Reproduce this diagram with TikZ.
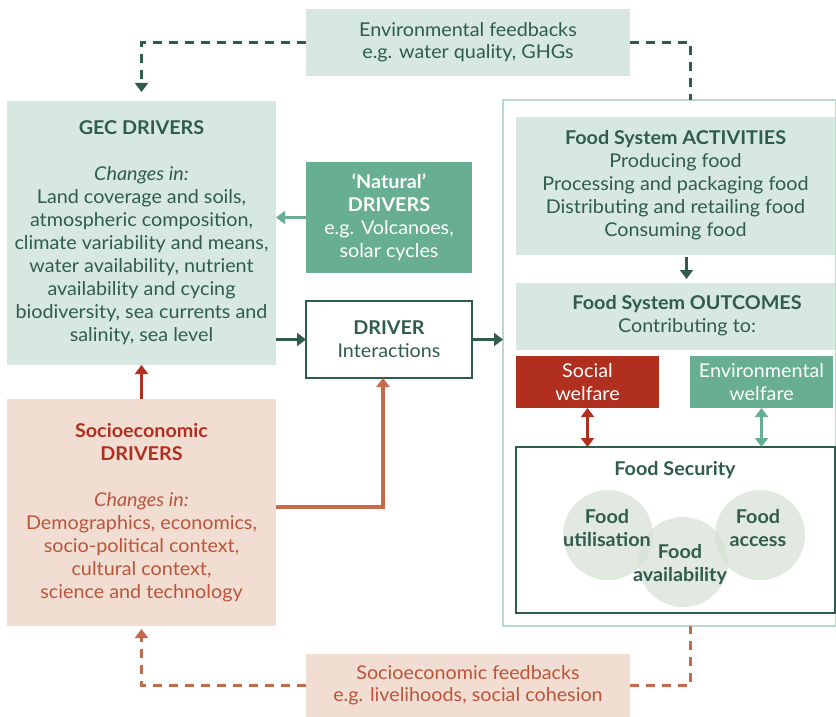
\documentclass[tikz,border=0pt]{standalone}
\usepackage{fontspec}
\setmainfont{Lato}[FakeStretch=1.04]
\usetikzlibrary{arrows.meta}
\definecolor{lg}{HTML}{D6E8DF}
\definecolor{dg}{HTML}{2F5C4C}
\definecolor{mg}{HTML}{67AE93}
\definecolor{bb}{HTML}{B9DACA}
\definecolor{rd}{HTML}{B12F1F}
\definecolor{sal}{HTML}{F2DDD2}
\definecolor{org}{HTML}{C8694A}
\definecolor{stx}{HTML}{BA553B}
\definecolor{circ}{HTML}{D6E1D5}
\tikzset{
  box/.style={rectangle, inner sep=0pt, outer sep=0pt, align=center, font=\fontsize{19}{23}\selectfont},
  lbl/.style={inner sep=0pt, outer sep=0pt, align=center, font=\fontsize{19}{23}\selectfont},
  bl/.style={inner sep=0pt, outer sep=0pt, align=center, font=\fontsize{19}{23}\selectfont\bfseries, text=dg},
  circnode/.style={circle, minimum size=90pt, inner sep=0pt, fill=circ, fill opacity=0.7},
  dashline/.style={line width=3pt, dash pattern=on 9pt off 7pt},
  tip/.style={-{Triangle[width=13pt,length=9pt]}},
  dtip/.style={{Triangle[width=13pt,length=9pt]}-{Triangle[width=13pt,length=9pt]}},
}
\begin{document}
\begin{tikzpicture}[x=1pt,y=-1pt]
\useasboundingbox (0,0) rectangle (836,717);
\fill[white] (0,0) rectangle (836,717);

% big outline box
\node[box, draw=bb, line width=2pt, minimum width=333pt, minimum height=526pt] (big) at (669.5,363) {};

% feedback boxes
\node[box, fill=lg, text=dg, minimum width=324pt, minimum height=67pt, font=\fontsize{19}{22}\selectfont] (envfb) at (468,42.5)
  {Environmental feedbacks\\e.g. water quality, GHGs};
\node[box, fill=sal, text=stx, minimum width=324pt, minimum height=63pt, font=\fontsize{19}{22}\selectfont] (socfb) at (468,685.5)
  {Socioeconomic feedbacks\\e.g. livelihoods, social cohesion};

% GEC drivers
\node[box, fill=lg, text=dg, minimum width=269pt, minimum height=264pt] (gec) at (141.5,233)
  {\textbf{GEC DRIVERS}\\[23pt]\textit{Changes in:}\\Land coverage and soils,\\atmospheric composition,\\climate variability and means,\\water availability, nutrient\\availability and cycing\\biodiversity, sea currents and\\salinity, sea level};

% Socioeconomic drivers
\node[box, fill=sal, text=stx, minimum width=269pt, minimum height=227pt] (soc) at (141.5,512.5)
  {\textcolor{rd}{\textbf{Socioeconomic}}\\\textcolor{rd}{\textbf{DRIVERS}}\\[23pt]\textit{Changes in:}\\Demographics, economics,\\socio-political context,\\cultural context,\\science and technology};

% Natural drivers
\node[box, fill=mg, text=white, minimum width=166pt, minimum height=111pt] (nat) at (389,217.5)
  {\textbf{‘Natural’}\\\textbf{DRIVERS}\\e.g. Volcanoes,\\solar cycles};

% Driver interactions
\node[box, fill=white, draw=dg, line width=1.5pt, text=dg, minimum width=166pt, minimum height=77pt] (drv) at (389,339.5)
  {\textbf{DRIVER}\\Interactions};

% Food system activities
\node[box, fill=lg, text=dg, minimum width=319pt, minimum height=138pt] (act) at (675.5,185.5)
  {\textbf{Food System ACTIVITIES}\\Producing food\\Processing and packaging food\\Distributing and retailing food\\Consuming food};

% Outcomes
\node[box, fill=lg, minimum width=319pt, minimum height=67pt] (out) at (675.5,316.5) {};
\node[lbl, text=dg] (outt) at (687,315.5) {\textbf{Food System OUTCOMES}\\Contributing to:};

% welfare boxes
\node[box, fill=rd, text=white, minimum width=143pt, minimum height=52pt] (sw) at (587.5,382) {Social\\welfare};
\node[box, fill=mg, text=white, minimum width=143pt, minimum height=52pt] (ew) at (761.5,382) {Environmental\\welfare};

% Food security
\node[box, fill=white, draw=dg, line width=1.8pt, minimum width=319pt, minimum height=166pt] (fs) at (675.5,530) {};
\node[bl] (fst) at (675,470) {Food Security};
\node[circnode] (cu) at (608,535) {};
\node[circnode] (ca) at (683,562) {};
\node[circnode] (cac) at (760,535) {};
\node[bl] (cut) at (607,528.5) {Food\\utilisation};
\node[bl] (cat) at (680,564.5) {Food\\availability};
\node[bl] (cact) at (758,528.5) {Food\\access};

% connectors
\draw[dg, dashline, tip] (envfb.west) -| ([yshift=9pt]gec.north);
\coordinate (bigtop) at (690,100);
\draw[dg, dashline] (envfb.east) -| (bigtop);
\draw[org, dashline, tip] (socfb.west) -| ([yshift=-3pt]soc.south);
\coordinate (bigbot) at (690,626);
\draw[org, dashline] (socfb.east) -| (bigbot);

\draw[mg, line width=3pt, tip] (nat.west) -- (gec.east |- nat.west);
\draw[dg, line width=3pt, tip] (gec.east |- drv.west) -- (drv.west);
\draw[dg, line width=3pt, tip] (drv.east) -- (big.west |- drv.east);
\draw[dg, line width=3pt, tip] ([xshift=11pt,yshift=-2pt]act.south) -- ([xshift=11pt,yshift=4pt]out.north);
\draw[rd, line width=3pt, tip] (soc.north) -- (gec.south);
\draw[org, line width=4pt, tip] ([yshift=6pt]soc.east) -| ([xshift=-6pt]drv.south);
\draw[rd, line width=3pt, dtip] (sw.south) -- (sw.south |- fs.north);
\draw[mg, line width=3pt, dtip] (ew.south) -- (ew.south |- fs.north);
\end{tikzpicture}
\end{document}
